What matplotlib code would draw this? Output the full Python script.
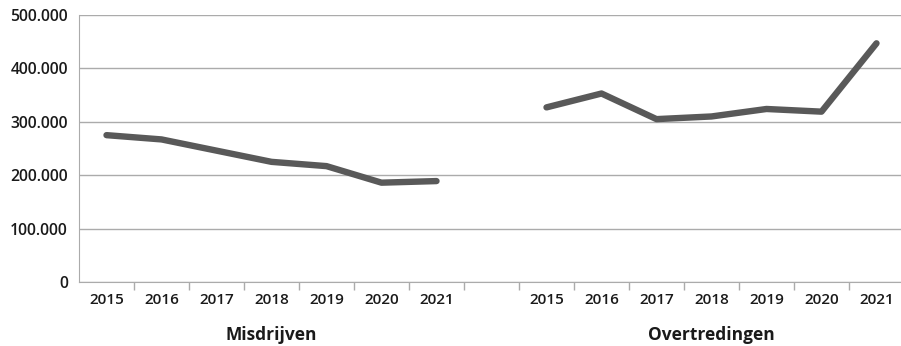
import matplotlib.pyplot as plt
import numpy as np

# data
years = ['2015', '2016', '2017', '2018', '2019', '2020', '2021']
groups = ['Misdrijven', 'Overtredingen']
misdrijven = [275000, 267000, 246000, 225000, 217000, 186000, 189000]
overtredingen = [327000, 353000, 305000, 310000, 324000, 319000, 447000]
yticks = [0, 100000, 200000, 300000, 400000, 500000]

plt.rcParams['font.family'] = ['Open Sans', 'DejaVu Sans']

fig = plt.figure(figsize=(9.01, 3.46), dpi=100)
ax = fig.add_axes([79 / 901, 64 / 346, 825 / 901, 267 / 346])

n = len(years)
x1 = np.arange(n) + 0.5
x2 = np.arange(n) + n + 1.5
line_col = '#595959'
grid_col = '#ababab'
txt_col = '#1a1a1a'

ax.plot(x1, misdrijven, color=line_col, lw=4.6, solid_capstyle='round', solid_joinstyle='round')
ax.plot(x2, overtredingen, color=line_col, lw=4.6, solid_capstyle='round', solid_joinstyle='round')

ax.set_xlim(0, 2 * n + 1)
ax.set_ylim(0, 500000)

# gridlines
ax.set_yticks(yticks)
ax.set_yticklabels(['0' if v == 0 else f'{v:,}'.replace(',', '.') for v in yticks],
                   fontsize=11.3, fontweight='semibold', color=txt_col)
ax.yaxis.grid(True, color=grid_col, lw=1)
ax.set_axisbelow(True)
ax.tick_params(axis='y', length=0, pad=8)

# ticks between categories, labels at centres
ax.set_xticks(np.arange(1, 2 * n + 1))
ax.set_xticklabels([])
ax.tick_params(axis='x', which='major', length=6, color=grid_col, width=1)
ax.set_xticks(np.concatenate([x1, x2]), minor=True)
ax.set_xticklabels(years + years, minor=True, fontsize=11, fontweight='semibold', color=txt_col)
ax.tick_params(axis='x', which='minor', length=0, pad=8)

for s in ['top', 'right']:
    ax.spines[s].set_visible(False)
ax.spines['left'].set_color(grid_col)
ax.spines['bottom'].set_color(grid_col)

# group labels
ax.text(n / 2, -0.2, groups[0], transform=ax.get_xaxis_transform(),
        ha='center', va='center', fontsize=12.5, fontweight='bold', color=txt_col)
ax.text(n + 1 + n / 2, -0.2, groups[1], transform=ax.get_xaxis_transform(),
        ha='center', va='center', fontsize=12.5, fontweight='bold', color=txt_col)

fig.savefig('out.png', dpi=100)
